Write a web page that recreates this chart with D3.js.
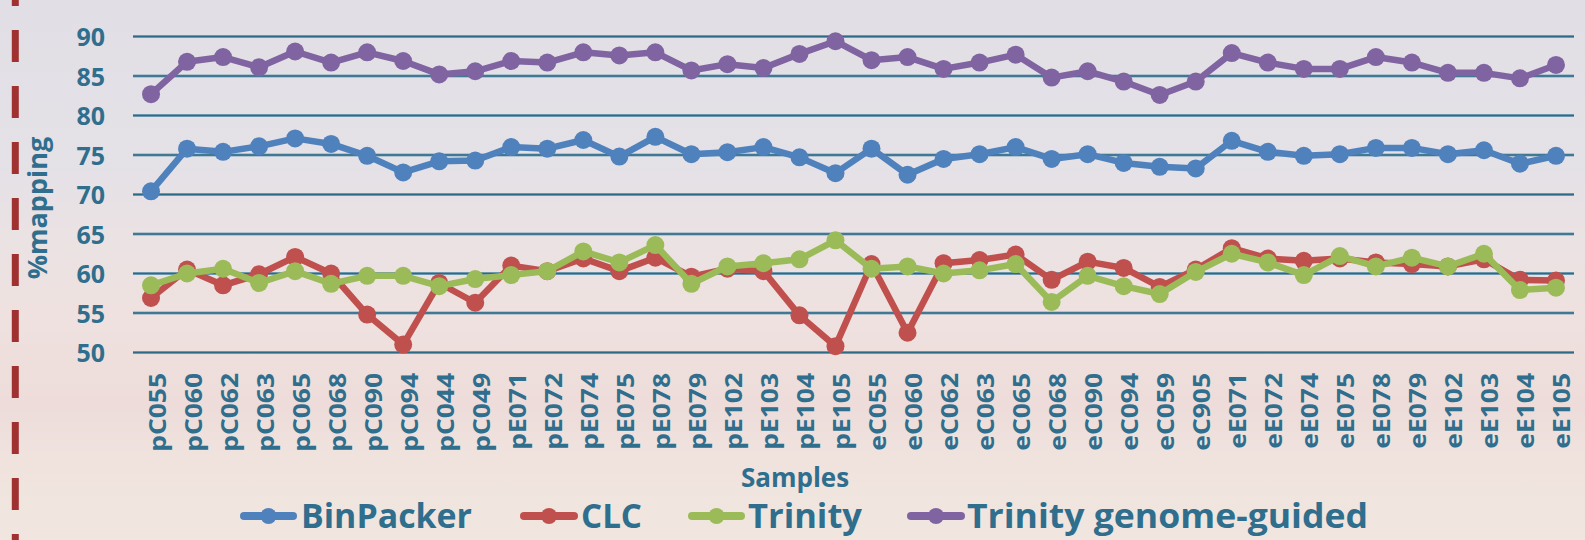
<!DOCTYPE html>
<html>
<head>
<meta charset="utf-8">
<script src="https://cdn.jsdelivr.net/npm/d3@7/dist/d3.min.js"></script>
<style>
  html, body { margin: 0; padding: 0; background: #ebe3e3; }
  svg { display: block; }
  text { font-family: "Open Sans", "DejaVu Sans", sans-serif; font-weight: 700; fill: #2f6e8d; }
</style>
</head>
<body>
<svg id="chart" width="1585" height="540"></svg>
<script>
const samples = ["pC055","pC060","pC062","pC063","pC065","pC068","pC090","pC094","pC044","pC049",
  "pE071","pE072","pE074","pE075","pE078","pE079","pE102","pE103","pE104","pE105",
  "eC055","eC060","eC062","eC063","eC065","eC068","eC090","eC094","eC059","eC905",
  "eE071","eE072","eE074","eE075","eE078","eE079","eE102","eE103","eE104","eE105"];

const binPacker = [70.4,75.8,75.4,76.1,77.1,76.4,74.9,72.8,74.2,74.3,
  76.0,75.8,76.9,74.8,77.3,75.1,75.35,76.0,74.7,72.7,
  75.8,72.5,74.5,75.1,76.0,74.5,75.1,74.0,73.5,73.3,
  76.8,75.4,74.9,75.1,75.9,75.9,75.1,75.6,73.9,74.9];

const clc = [56.9,60.5,58.5,59.9,62.1,60.0,54.8,51.0,58.8,56.3,
  61.0,60.3,61.9,60.3,62.0,59.6,60.6,60.3,54.7,50.8,
  61.2,52.5,61.3,61.7,62.4,59.2,61.5,60.7,58.3,60.5,
  63.2,61.9,61.6,61.9,61.4,61.2,60.9,61.8,59.2,59.1];

const trinity = [58.5,60.0,60.6,58.8,60.3,58.7,59.7,59.7,58.4,59.3,
  59.8,60.3,62.8,61.4,63.6,58.7,60.9,61.3,61.8,64.2,
  60.6,60.9,60.0,60.4,61.2,56.4,59.7,58.4,57.4,60.2,
  62.5,61.4,59.8,62.2,60.9,62.0,60.9,62.5,57.9,58.2];

const trinityGG = [82.7,86.8,87.4,86.1,88.1,86.7,88.0,86.9,85.2,85.6,
  86.9,86.7,88.0,87.6,88.0,85.7,86.5,86.0,87.8,89.4,
  87.0,87.4,85.9,86.7,87.7,84.8,85.6,84.3,82.6,84.3,
  87.9,86.7,85.9,85.9,87.4,86.7,85.4,85.4,84.7,86.4];

const seriesNames = ["BinPacker","CLC","Trinity","Trinity genome-guided"];
const seriesColors = ["#4f81bd","#c0504d","#9bbb59","#8064a2"];
const yTicks = [50,55,60,65,70,75,80,85,90];
const yTitle = "%mapping";
const xTitle = "Samples";

const seriesData = [binPacker, clc, trinity, trinityGG];

const svg = d3.select("#chart");
const W = 1585, H = 540;

// background
const defs = svg.append("defs");
const bg = defs.append("linearGradient").attr("id","bg").attr("x1",0).attr("y1",0).attr("x2",0).attr("y2",1);
[[0,"#e1dfe5"],[0.3,"#e4e1e7"],[0.45,"#ebe2e3"],[0.6,"#efe1df"],[0.75,"#eddcda"],[0.85,"#f0e3de"],[1,"#f1e6df"]]
  .forEach(([o,c]) => bg.append("stop").attr("offset",o).attr("stop-color",c));
svg.append("rect").attr("width",W).attr("height",H).attr("fill","url(#bg)");

// left dashed decoration
svg.append("line").attr("x1",15.3).attr("x2",15.3).attr("y1",-26).attr("y2",H)
  .attr("stroke","#a03131").attr("stroke-width",7).attr("stroke-dasharray","32,24");

const x = d3.scaleBand().domain(samples).range([133, 1574]);
const y = d3.scaleLinear().domain([50, 90]).range([352.5, 36.5]);
const cx = d => x(d) + x.bandwidth() / 2;

// gridlines
const grid = svg.append("g");
yTicks.forEach(t => {
  grid.append("line").attr("x1",133).attr("x2",1574).attr("y1",y(t)).attr("y2",y(t))
    .attr("stroke","#7fa6bb").attr("stroke-width",3.2);
  grid.append("line").attr("x1",133).attr("x2",1574).attr("y1",y(t)).attr("y2",y(t))
    .attr("stroke","#2c6a88").attr("stroke-width",1.6);
});

// y axis labels
const yAxis = d3.axisLeft(y).tickValues(yTicks).tickSize(0).tickPadding(0);
const gy = svg.append("g").attr("transform","translate(105,0)").call(yAxis);
gy.select(".domain").remove();
gy.selectAll("text").attr("font-size",25).attr("font-family",null).attr("fill",null)
  .attr("dy","0.36em").attr("x",0).style("text-anchor","end");

// x axis labels
const xAxis = d3.axisBottom(x).tickSize(0).tickPadding(0);
const gx = svg.append("g").attr("transform","translate(0,373)").call(xAxis);
gx.select(".domain").remove();
gx.selectAll("text").attr("font-size",24).attr("font-family",null).attr("fill",null)
  .attr("y",0).attr("x",0).attr("dy",null)
  .attr("transform","rotate(-90) translate(0,14.5) scale(1.1,1)")
  .style("text-anchor","end");

// titles
svg.append("text").attr("transform","translate(47,208) rotate(-90)")
  .attr("text-anchor","middle").attr("font-size",27).text(yTitle);
svg.append("text").attr("x",795).attr("y",487).attr("text-anchor","middle")
  .attr("font-size",26).text(xTitle);

// series
const line = d3.line().x((d,i) => cx(samples[i])).y(d => y(d));
seriesData.forEach((vals, si) => {
  const g = svg.append("g");
  g.append("path").datum(vals).attr("d", line).attr("fill","none")
    .attr("stroke", seriesColors[si]).attr("stroke-width",6.5).attr("stroke-linejoin","round");
  g.selectAll("circle").data(vals).join("circle")
    .attr("cx",(d,i) => cx(samples[i])).attr("cy", d => y(d)).attr("r",9)
    .attr("fill", seriesColors[si]);
});

// legend
const legendLayout = [
  {sw:[240,297], tx:301, tw:171},
  {sw:[520,578], tx:581, tw:61},
  {sw:[688,745], tx:748, tw:114},
  {sw:[907,965], tx:967, tw:401}
];
const ly = 516;
seriesNames.forEach((name, i) => {
  const L = legendLayout[i];
  svg.append("line").attr("x1",L.sw[0]+4).attr("x2",L.sw[1]-4).attr("y1",ly).attr("y2",ly)
    .attr("stroke",seriesColors[i]).attr("stroke-width",8).attr("stroke-linecap","round");
  svg.append("circle").attr("cx",(L.sw[0]+L.sw[1])/2).attr("cy",ly).attr("r",8)
    .attr("fill",seriesColors[i]);
  svg.append("text").attr("x",L.tx).attr("y",528).attr("font-size",33.5)
    .attr("textLength",L.tw).attr("lengthAdjust","spacingAndGlyphs").text(name);
});
</script>
</body>
</html>
